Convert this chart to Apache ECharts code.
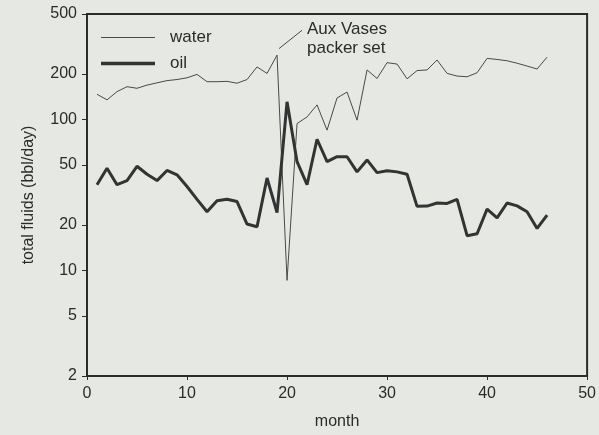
<!DOCTYPE html>
<html>
<head>
<meta charset="utf-8">
<script src="https://cdn.jsdelivr.net/npm/echarts@6/dist/echarts.min.js"></script>
<style>
  html, body { margin: 0; padding: 0; background: #e5e8e3; }
  #chart { width: 599px; height: 435px; }
</style>
</head>
<body>
<div id="chart"></div>
<script>
// month numbers 1..46
const months = [1,2,3,4,5,6,7,8,9,10,11,12,13,14,15,16,17,18,19,20,21,22,23,24,25,26,27,28,29,30,31,32,33,34,35,36,37,38,39,40,41,42,43,44,45,46]
const water = [147,135,153,165,161,169,175,181,184,189,199,178,178,179,174,184,223,202,267,8.6,94,104,125,85,139,152,99,213,187,238,233,186,211,213,248,202,194,192,204,254,250,245,236,226,216,259]
const oil = [37,47.5,37,39.4,49,43.4,39.4,46,43,36,29.6,24.5,29,29.6,28.6,20.3,19.5,41,24.2,131,52.6,37,74,52.6,56.7,56.7,45,54,44.5,45.8,45,43.4,26.6,26.7,28,27.8,29.6,17,17.5,25.5,22.3,28,26.8,24.5,19,23.3]
const yTicks = [2, 5, 10, 20, 50, 100, 200, 500]

const font = 'Liberation Sans, Arial, sans-serif'
const ink = '#2b2b2b'

const chart = echarts.init(document.getElementById('chart'), null, { renderer: 'canvas' })

chart.setOption({
  backgroundColor: '#e5e8e3',
  animation: false,
  grid: {
    left: 87, right: 10, top: 14, bottom: 58,
    show: true, borderColor: ink, borderWidth: 2, backgroundColor: 'transparent'
  },
  legend: {
    orient: 'vertical',
    left: 96, top: 24,
    itemWidth: 54, itemHeight: 12, itemGap: 9,
    data: [
      { name: 'water', icon: 'path://M0 0H54V1H0Z' },
      { name: 'oil', icon: 'path://M0 0H54V3.5H0Z' },
    ],
    textStyle: { fontFamily: font, fontSize: 17, color: ink, padding: [0, 0, 0, 10] },
  },
  xAxis: {
    type: 'value',
    min: 0, max: 50, interval: 10,
    name: 'month', nameLocation: 'middle', nameGap: 38,
    nameTextStyle: { fontFamily: font, fontSize: 16, color: ink },
    axisLine: { lineStyle: { color: ink, width: 2 } },
    axisTick: { show: true, length: 4, lineStyle: { color: ink } },
    axisLabel: { fontFamily: font, fontSize: 16, color: ink, margin: 10 },
    splitLine: { show: false },
  },
  yAxis: {
    type: 'log',
    logBase: 10,
    min: 2, max: 500,
    name: 'total fluids (bbl/day)', nameLocation: 'middle', nameGap: 50,
    nameTextStyle: { fontFamily: font, fontSize: 16, color: ink },
    axisLine: { lineStyle: { color: ink, width: 2 } },
    axisTick: { show: true, length: 5, customValues: yTicks, lineStyle: { color: ink } },
    axisLabel: { fontFamily: font, fontSize: 16, color: ink, margin: 10, customValues: yTicks },
    splitLine: { show: false },
    minorTick: { show: false },
  },
  series: [
    {
      name: 'water',
      type: 'line',
      data: months.map((m, i) => [m, water[i]]),
      symbol: 'none',
      lineStyle: { color: '#4a4a4a', width: 1 },
      itemStyle: { color: '#4a4a4a' },
      markLine: {
        silent: true,
        symbol: 'none',
        label: { show: false },
        lineStyle: { color: '#4a4a4a', width: 1, type: 'solid' },
        data: [[{ coord: [19.2, 295] }, { coord: [21.5, 390] }]],
      },
    },
    {
      name: 'oil',
      type: 'line',
      data: months.map((m, i) => [m, oil[i]]),
      symbol: 'none',
      lineStyle: { color: '#333333', width: 3 },
      itemStyle: { color: '#333333' },
    },
  ],
  graphic: [
    {
      type: 'text', left: 307, top: 20,
      style: { text: 'Aux Vases\npacker set', font: '17px ' + font, fill: ink, lineHeight: 19 },
    },
  ],
})
</script>
</body>
</html>
